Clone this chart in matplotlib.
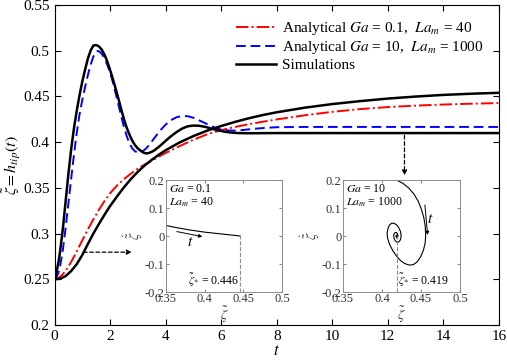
import numpy as np
import matplotlib.pyplot as plt
from matplotlib.ticker import FormatStrFormatter

plt.rcParams['font.family'] = ['Liberation Serif', 'DejaVu Serif']
plt.rcParams['mathtext.fontset'] = 'stix'
plt.rcParams['axes.unicode_minus'] = False

# analytical Ga = 0.1, La_m = 40
t_red = [0, 0.15, 0.3, 0.45, 0.6, 0.75, 0.9, 1.05, 1.2, 1.4, 1.6, 1.8, 2.0,
         2.25, 2.5, 2.75, 3.0, 3.25, 3.5, 3.75, 4.0, 4.5, 5.0, 5.5, 6.0, 6.5,
         7.0, 7.5, 8.0, 9.0, 10.0, 11.0, 12.0, 13.0, 14.0, 15.0, 16.0]
z_red = [0.25, 0.2515, 0.2555, 0.2615, 0.269, 0.2775, 0.2865, 0.2955, 0.3045,
         0.3155, 0.326, 0.3355, 0.344, 0.3525, 0.3595, 0.3655, 0.371, 0.3755,
         0.3795, 0.384, 0.388, 0.3955, 0.4025, 0.4085, 0.413, 0.4165, 0.4195,
         0.4222, 0.4247, 0.4292, 0.433, 0.436, 0.4382, 0.4398, 0.441, 0.4419,
         0.4426]

# analytical Ga = 10, La_m = 1000
t_blue = [0, 0.05, 0.1, 0.15, 0.2, 0.3, 0.4, 0.5, 0.6, 0.7, 0.8, 0.9, 1.0, 1.1,
          1.2, 1.3, 1.4, 1.5, 1.55, 1.6, 1.7, 1.8, 1.9, 2.0, 2.1, 2.2, 2.3, 2.4,
          2.5, 2.6, 2.7, 2.8, 2.9, 3.0, 3.1, 3.2, 3.3, 3.4, 3.6, 3.8, 4.0, 4.2,
          4.4, 4.6, 4.8, 5.0, 5.2, 5.4, 5.6, 5.8, 6.0, 6.2, 6.5, 6.8, 7.2, 7.6,
          8.0, 9.0, 16.0]
z_blue = [0.25, 0.251, 0.254, 0.258, 0.264, 0.282, 0.306, 0.333, 0.36, 0.386,
          0.41, 0.43, 0.446, 0.46, 0.473, 0.4845, 0.4935, 0.4985, 0.4995, 0.4992,
          0.4965, 0.4915, 0.4845, 0.476, 0.4655, 0.4535, 0.441, 0.4285, 0.4165,
          0.4065, 0.3985, 0.393, 0.3898, 0.3887, 0.389, 0.3905, 0.393, 0.3965,
          0.4045, 0.4125, 0.419, 0.424, 0.4272, 0.4285, 0.4282, 0.4265, 0.4238,
          0.421, 0.418, 0.4155, 0.4137, 0.4127, 0.4125, 0.4132, 0.4145, 0.4155,
          0.4162, 0.4165, 0.4165]

# simulation Ga = 10
t_sim1 = [0, 0.05, 0.1, 0.15, 0.2, 0.3, 0.4, 0.5, 0.6, 0.7, 0.8, 0.9, 1.0, 1.1,
          1.2, 1.3, 1.4, 1.5, 1.6, 1.7, 1.8, 1.9, 2.0, 2.1, 2.2, 2.3, 2.4, 2.5,
          2.6, 2.7, 2.8, 2.9, 3.0, 3.1, 3.2, 3.3, 3.4, 3.5, 3.6, 3.8, 4.0, 4.2,
          4.4, 4.6, 4.8, 5.0, 5.2, 5.4, 5.6, 5.8, 6.0, 6.3, 6.6, 7.0, 8.0, 16.0]
z_sim1 = [0.25, 0.255, 0.262, 0.27, 0.28, 0.305, 0.335, 0.365, 0.392, 0.415,
          0.434, 0.451, 0.466, 0.479, 0.491, 0.5, 0.5055, 0.506, 0.5045, 0.501,
          0.4955, 0.488, 0.479, 0.469, 0.4585, 0.4475, 0.436, 0.425, 0.4155,
          0.408, 0.4015, 0.3965, 0.393, 0.3905, 0.3885, 0.3875, 0.388, 0.3893,
          0.391, 0.3958, 0.4013, 0.4065, 0.411, 0.4148, 0.4172, 0.418, 0.4178,
          0.4168, 0.4152, 0.4135, 0.412, 0.4105, 0.4098, 0.4096, 0.4098, 0.4098]

# simulation Ga = 0.1
t_sim2 = [0, 0.2, 0.4, 0.6, 0.8, 1.0, 1.2, 1.4, 1.6, 1.8, 2.0, 2.25, 2.5, 2.75,
          3.0, 3.25, 3.5, 3.75, 4.0, 4.5, 5.0, 5.5, 6.0, 6.5, 7.0, 7.5, 8.0,
          9.0, 10.0, 11.0, 12.0, 13.0, 14.0, 15.0, 16.0]
z_sim2 = [0.25, 0.2505, 0.2535, 0.259, 0.2665, 0.2765, 0.2885, 0.3, 0.3105,
          0.3205, 0.33, 0.3405, 0.3505, 0.3595, 0.3675, 0.3745, 0.3805, 0.386,
          0.391, 0.3995, 0.4065, 0.4125, 0.4175, 0.422, 0.426, 0.4295, 0.4325,
          0.4375, 0.4415, 0.4447, 0.4475, 0.4497, 0.4515, 0.4528, 0.4538]

# inset phase portraits (zeta, d zeta / dt)
zeta_a = [0.35, 0.36, 0.37, 0.38, 0.39, 0.40, 0.41, 0.42, 0.43, 0.44, 0.446]
zdot_a = [0.038, 0.032, 0.027, 0.022, 0.018, 0.014, 0.011, 0.008, 0.005, 0.002, 0.0]

zeta_b = [0.419, 0.427, 0.4345, 0.441, 0.4465, 0.4505, 0.4537, 0.4555, 0.456,
          0.4553, 0.4532, 0.4497, 0.4452, 0.44, 0.4345, 0.429, 0.4235, 0.4185,
          0.4138, 0.4098, 0.4072, 0.4065, 0.4078, 0.4098, 0.4124, 0.4155,
          0.4187, 0.4215, 0.4236, 0.4245, 0.4243, 0.4231, 0.4212, 0.419, 0.417,
          0.4155, 0.415, 0.4155, 0.4168, 0.4183, 0.4197, 0.4204, 0.4203,
          0.4196, 0.4187, 0.4181, 0.418, 0.4185, 0.419, 0.419]
zdot_b = [0.2, 0.188, 0.171, 0.15, 0.124, 0.096, 0.065, 0.033, 0.0, -0.025,
          -0.05, -0.073, -0.092, -0.1025, -0.1035, -0.098, -0.087, -0.071,
          -0.052, -0.03, -0.008, 0.01, 0.028, 0.04, 0.046, 0.0455, 0.04, 0.03,
          0.017, 0.004, -0.006, -0.016, -0.0215, -0.022, -0.017, -0.009, 0.0,
          0.008, 0.0125, 0.0128, 0.009, 0.003, -0.003, -0.007, -0.0065, -0.003,
          0.001, 0.003, 0.002, 0.0]

fig = plt.figure(figsize=(5.07, 3.61), dpi=100)
ax = fig.add_axes([0.1075, 0.0997, 0.8765, 0.887])

ax.plot(t_red, z_red, color='red', ls='-.', lw=1.4,
        label=r'Analytical $Ga$ = 0.1,  $La_m$ = 40')
ax.plot(t_blue, z_blue, color='blue', ls=(0, (5, 2.5)), lw=1.4,
        label=r'Analytical $Ga$ = 10,  $La_m$ = 1000')
ax.plot(t_sim1, z_sim1, color='black', lw=1.8, label='Simulations')
ax.plot(t_sim2, z_sim2, color='black', lw=1.8)

ax.set_xlim(0, 16)
ax.set_ylim(0.2, 0.55)
ax.set_xticks(np.arange(0, 17, 2))
ax.set_yticks(np.arange(0.2, 0.551, 0.05))
ax.yaxis.set_major_formatter(FormatStrFormatter('%g'))
ax.tick_params(direction='in', top=True, right=True, labelsize=11, length=4)
ax.set_xlabel(r'$t$', fontsize=12, labelpad=0)
ax.set_ylabel(r'$\tilde{\zeta}=h_{tip}(t)$', fontsize=11.5)
ax.yaxis.set_label_coords(-0.07, 0.5)
ax.legend(loc='upper right', frameon=False, fontsize=11, handlelength=2.6,
          labelspacing=0.15, borderaxespad=0.6, handletextpad=0.4)

arr = dict(arrowstyle='-|>', ls=(0, (3, 2)), color='black', lw=0.9,
           mutation_scale=7, shrinkA=0, shrinkB=0)
ax.annotate('', xy=(2.78, 0.2796), xytext=(1.04, 0.2796), arrowprops=arr)
ax.annotate('', xy=(12.6, 0.3636), xytext=(12.6, 0.4073), arrowprops=arr)

grey = '#8c8c8c'


def style_inset(ia):
    ia.set_xlim(0.35, 0.5)
    ia.set_ylim(-0.2, 0.2)
    ia.set_xticks([0.35, 0.4, 0.45, 0.5])
    ia.set_yticks([-0.2, -0.1, 0, 0.1, 0.2])
    ia.xaxis.set_major_formatter(FormatStrFormatter('%g'))
    ia.yaxis.set_major_formatter(FormatStrFormatter('%g'))
    ia.tick_params(direction='in', top=True, right=True, labelsize=9,
                   length=2.5, pad=1, color=grey, labelcolor='#333333')
    for s in ia.spines.values():
        s.set_color(grey)
        s.set_linewidth(0.7)
    ia.set_xlabel(r'$\tilde{\zeta}$', fontsize=10, labelpad=-1, color='#333333')
    ia.set_ylabel(r'$\dot{\tilde{\zeta}}$', fontsize=10, labelpad=0, color='#333333')


ia1 = fig.add_axes([0.3274, 0.1911, 0.2288, 0.310])
style_inset(ia1)
ia1.plot(zeta_a, zdot_a, color='black', lw=0.8)
ia1.plot([0.446, 0.446], [-0.2, 0.0], color=grey, ls='--', lw=0.8)
ia1.annotate('', xy=(0.397, -0.002), xytext=(0.364, 0.016),
             arrowprops=dict(arrowstyle='-|>', color='black', lw=0.7,
                             mutation_scale=5, shrinkA=0, shrinkB=0))
ia1.text(0.381, -0.024, r'$t$', fontsize=11, ha='center', va='center')
ia1.text(0.354, 0.19, r'$Ga$ = 0.1' + '\n' + r'$La_m$ = 40', fontsize=8.5,
         va='top', ha='left', linespacing=1.1)
ia1.text(0.4445, -0.19, r'$\tilde{\zeta}_{*}$ = 0.446', fontsize=8.5,
         ha='right', va='bottom')

ia2 = fig.add_axes([0.6765, 0.1911, 0.2308, 0.310])
style_inset(ia2)
ia2.plot(zeta_b, zdot_b, color='black', lw=0.8)
ia2.plot([0.419, 0.419], [-0.2, 0.0], color=grey, ls='--', lw=0.8)
ia2.annotate('', xy=(0.4585, 0.004), xytext=(0.455, 0.111),
             arrowprops=dict(arrowstyle='-|>', color='black', lw=0.7,
                             mutation_scale=5, shrinkA=0, shrinkB=0))
ia2.text(0.4625, 0.06, r'$t$', fontsize=11, ha='center', va='center')
ia2.text(0.354, 0.19, r'$Ga$ = 10' + '\n' + r'$La_m$ = 1000', fontsize=8.5,
         va='top', ha='left', linespacing=1.1)
ia2.text(0.4205, -0.19, r'$\tilde{\zeta}_{*}$ = 0.419', fontsize=8.5,
         ha='left', va='bottom')

fig.savefig('out.png', dpi=100)
